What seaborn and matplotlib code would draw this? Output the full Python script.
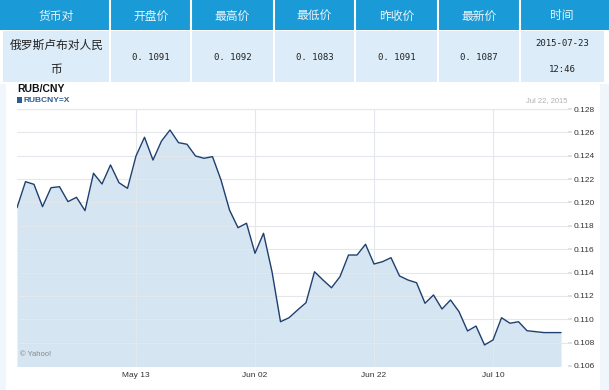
import matplotlib
matplotlib.use("Agg")
import matplotlib.pyplot as plt
import numpy as np
import pandas as pd
import seaborn as sns

# quote table
headers = ["货币对", "开盘价", "最高价", "最低价", "昨收价", "最新价", "时间"]
pair_name = ["俄罗斯卢布对人民", "币"]
quotes = ["0.1091", "0.1092", "0.1083", "0.1091", "0.1087"]
quote_time = ["2015-07-23", "12:46"]

# RUB/CNY daily close, trading days 2015-04-23 .. 2015-07-22
start, end = "2015-04-23", "2015-07-22"
rate = [0.11955, 0.12178, 0.12155, 0.11964, 0.12126, 0.12135, 0.12007, 0.12044,
        0.11930, 0.12250, 0.12158, 0.12321, 0.12169, 0.12121, 0.12398, 0.12558,
        0.12363, 0.12526, 0.12620, 0.12512, 0.12498, 0.12398, 0.12378, 0.12392,
        0.12192, 0.11935, 0.11784, 0.11822, 0.11565, 0.11736, 0.11407, 0.10979,
        0.11013, 0.11079, 0.11142, 0.11407, 0.11336, 0.11270, 0.11365, 0.11550,
        0.11550, 0.11642, 0.11473, 0.11493, 0.11527, 0.11371, 0.11336, 0.11313,
        0.11137, 0.11208, 0.11088, 0.11165, 0.11065, 0.10900, 0.10942, 0.10780,
        0.10823, 0.11013, 0.10966, 0.10979, 0.10902, 0.10894, 0.10886, 0.10886,
        0.10886]
tick_dates = ["2015-05-13", "2015-06-02", "2015-06-22", "2015-07-10"]
tick_labels = ["May 13", "Jun 02", "Jun 22", "Jul 10"]
y_ticks = [0.106, 0.108, 0.110, 0.112, 0.114, 0.116, 0.118, 0.120, 0.122,
           0.124, 0.126, 0.128]

df = pd.DataFrame({"date": pd.bdate_range(start, end), "rate": rate})
df["idx"] = np.arange(len(df))

sns.set_theme(style="white")
plt.rcParams["font.family"] = ["Liberation Sans", "Noto Sans CJK SC", "DejaVu Sans"]

W, H = 609, 390
fig = plt.figure(figsize=(W / 100, H / 100), dpi=100)

# background layer in pixel coordinates
bg = fig.add_axes([0, 0, 1, 1], zorder=0)
bg.set_xlim(0, W)
bg.set_ylim(H, 0)
bg.axis("off")

col_edges = [3, 110, 191, 274, 355, 438, 520, 604]
bg.add_patch(plt.Rectangle((0, 0), W, 30, color="#1a9ad6", lw=0))
bg.add_patch(plt.Rectangle((3, 31), 601, 51, color="#dcecf8", lw=0))
for x in col_edges[1:-1]:
    bg.plot([x - 0.5, x - 0.5], [0, 82], color="white", lw=1.5)
bg.add_patch(plt.Rectangle((0, 84), 6, H - 84, color="#f0f6fb", lw=0))
bg.add_patch(plt.Rectangle((600, 84), 9, H - 84, color="#f0f6fb", lw=0))

centers = [(a + b) / 2 for a, b in zip(col_edges[:-1], col_edges[1:])]
for cx, h in zip(centers, headers):
    bg.text(cx, 16, h, ha="center", va="center", color="#e8f5fc", fontsize=8.5,
            family=["Noto Sans CJK SC", "DejaVu Sans"])
bg.text(centers[0], 45, pair_name[0], ha="center", va="center", color="#222222",
        fontsize=8.5, family=["Noto Sans CJK SC", "DejaVu Sans"])
bg.text(centers[0], 70, pair_name[1], ha="center", va="center", color="#222222",
        fontsize=8.5, family=["Noto Sans CJK SC", "DejaVu Sans"])
for cx, q in zip(centers[1:6], quotes):
    bg.text(cx, 58, q.replace(".", ". "), ha="center", va="center", color="#222222",
            fontsize=6.5, family="DejaVu Sans Mono")
bg.text(centers[6], 44, quote_time[0], ha="center", va="center", color="#222222",
        fontsize=6.5, family="DejaVu Sans Mono")
bg.text(centers[6], 70, quote_time[1], ha="center", va="center", color="#222222",
        fontsize=6.5, family="DejaVu Sans Mono")

bg.text(17, 89, "RUB/CNY", ha="left", va="center", fontsize=7.5, weight="bold",
        color="#111111")
bg.add_patch(plt.Rectangle((17, 97), 4.5, 6, color="#2e5b95", lw=0))
bg.text(23, 100.5, "RUBCNY=X", ha="left", va="center", fontsize=6, weight="bold",
        color="#2e5b95")
bg.text(567, 101, "Jul 22, 2015", ha="right", va="center", fontsize=5.5,
        color="#b0b0b0")

# price chart
left, right, top, bottom = 17, 568, 109, 366
ax = fig.add_axes([left / W, (H - bottom) / H, (right - left) / W, (bottom - top) / H],
                  zorder=1)
ax.patch.set_alpha(0)
ax.fill_between(df["idx"], df["rate"], 0.1, color="#d5e5f1", lw=0, zorder=1)
sns.lineplot(data=df, x="idx", y="rate", ax=ax, color="#1f3f6e", lw=1.0, zorder=3)

ax.set_xlim(0, len(df) - 1 + 0.82)
ax.set_ylim(0.106, 0.128)
tick_pos = [int(df.index[df["date"] == pd.Timestamp(d)][0]) for d in tick_dates]
ax.set_xticks(tick_pos)
ax.set_xticklabels(tick_labels)
ax.set_yticks(y_ticks)
ax.set_yticklabels([f"{v:.3f}" for v in y_ticks])
ax.yaxis.tick_right()
ax.tick_params(axis="y", length=3, color="#dddddd", labelsize=6, labelcolor="#333333", pad=1)
ax.tick_params(axis="x", length=0, labelsize=6, labelcolor="#333333", pad=4)
ax.grid(True, color="#e4e8ec", lw=0.8, zorder=2)
ax.set_axisbelow(False)
for s in ["left", "bottom", "right"]:
    ax.spines[s].set_visible(False)
ax.spines["top"].set_color("#dddddd")
ax.spines["top"].set_linewidth(0.8)
ax.set_xlabel("")
ax.set_ylabel("")
ax.text(0.006, 0.03, "© Yahoo!", transform=ax.transAxes, fontsize=5.5,
        color="#888888", ha="left", va="bottom", zorder=4)

fig.savefig("out.png", dpi=100)
